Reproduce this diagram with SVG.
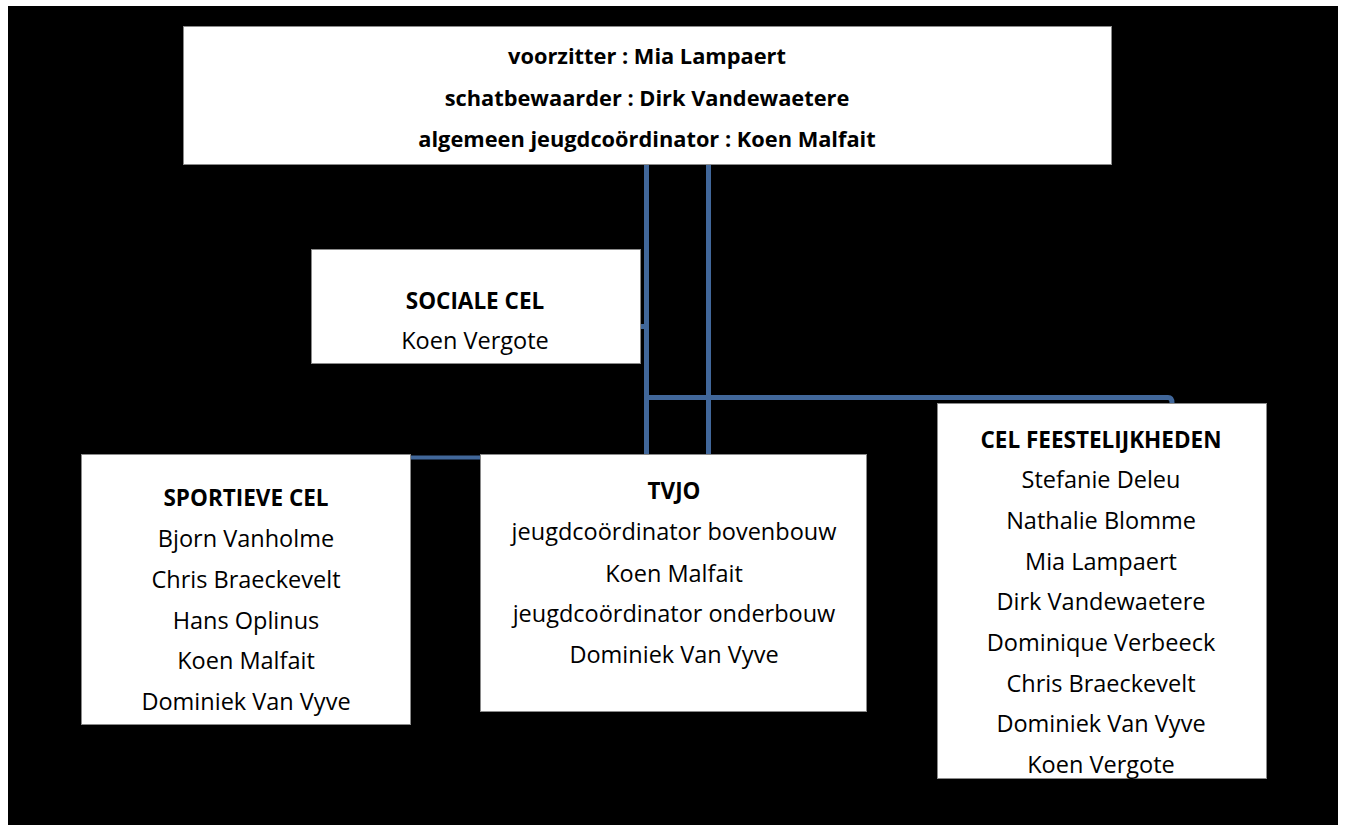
<svg xmlns="http://www.w3.org/2000/svg" width="1345" height="825" viewBox="0 0 1345 825">
<style>
.box{fill:#fff;stroke:#8a8a8a;stroke-width:1}
.t{font-family:"Open Sans","Noto Sans",sans-serif;font-size:23.5px;fill:#000;text-anchor:middle;dominant-baseline:central}
.b{font-weight:bold;font-size:22.5px}
.h{font-size:21.8px}
.c{stroke:#41679a;stroke-width:5;fill:none}
</style>
<rect x="0" y="0" width="1345" height="825" fill="#fff"/>
<rect x="8" y="6" width="1330" height="819" fill="#000"/>
<g id="connectors">
<line class="c" x1="646.5" y1="165" x2="646.5" y2="454"/>
<line class="c" x1="708.5" y1="165" x2="708.5" y2="454"/>
<line class="c" x1="640" y1="326.5" x2="646" y2="326.5"/>
<path class="c" d="M646 397.5 H1168 Q1172 397.5 1172 403"/>
<line class="c" style="stroke-width:4" x1="411" y1="457.5" x2="481" y2="457.5"/>
</g>
<g id="top">
<rect class="box" x="183.5" y="26.5" width="928" height="138"/>
<text class="t b h" x="647" y="55">voorzitter : Mia Lampaert</text>
<text class="t b h" x="647" y="97">schatbewaarder : Dirk Vandewaetere</text>
<text class="t b h" x="647" y="138">algemeen jeugdcoördinator : Koen Malfait</text>
</g>
<g id="sociale">
<rect class="box" x="311.5" y="249.5" width="329" height="114"/>
<text class="t b" x="475" y="300">SOCIALE CEL</text>
<text class="t" x="475" y="340">Koen Vergote</text>
</g>
<g id="sportieve">
<rect class="box" x="81.5" y="454.5" width="329" height="270"/>
<text class="t b" x="246" y="497">SPORTIEVE CEL</text>
<text class="t" x="246" y="538">Bjorn Vanholme</text>
<text class="t" x="246" y="579">Chris Braeckevelt</text>
<text class="t" x="246" y="620">Hans Oplinus</text>
<text class="t" x="246" y="660">Koen Malfait</text>
<text class="t" x="246" y="701">Dominiek Van Vyve</text>
</g>
<g id="tvjo">
<rect class="box" x="480.5" y="454.5" width="386" height="257"/>
<text class="t b" x="674" y="490">TVJO</text>
<text class="t" x="674" y="531">jeugdcoördinator bovenbouw</text>
<text class="t" x="674" y="573">Koen Malfait</text>
<text class="t" x="674" y="613">jeugdcoördinator onderbouw</text>
<text class="t" x="674" y="654">Dominiek Van Vyve</text>
</g>
<g id="feest">
<rect class="box" x="937.5" y="403.5" width="329" height="375"/>
<text class="t b" x="1101" y="439">CEL FEESTELIJKHEDEN</text>
<text class="t" x="1101" y="479">Stefanie Deleu</text>
<text class="t" x="1101" y="520">Nathalie Blomme</text>
<text class="t" x="1101" y="561">Mia Lampaert</text>
<text class="t" x="1101" y="601">Dirk Vandewaetere</text>
<text class="t" x="1101" y="642">Dominique Verbeeck</text>
<text class="t" x="1101" y="683">Chris Braeckevelt</text>
<text class="t" x="1101" y="723">Dominiek Van Vyve</text>
<text class="t" x="1101" y="764">Koen Vergote</text>
</g>
</svg>
